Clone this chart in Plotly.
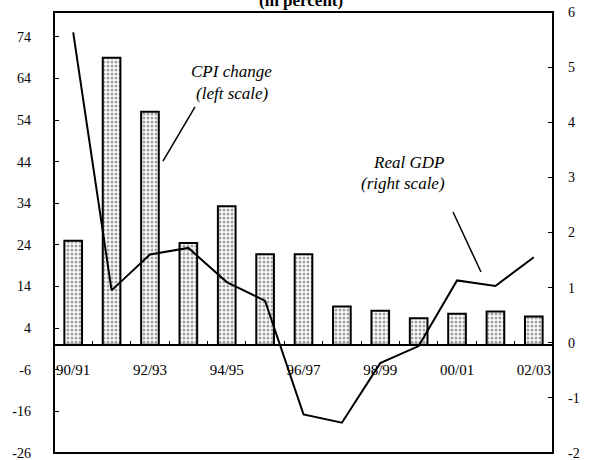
import plotly.graph_objects as go

categories = ["90/91", "91/92", "92/93", "93/94", "94/95", "95/96", "96/97",
              "97/98", "98/99", "99/00", "00/01", "01/02", "02/03"]
cpi_change = [25, 69, 56, 24.5, 33.3, 21.8, 21.8, 9.2, 8.2, 6.4, 7.5, 8.0, 6.8]
real_gdp = [5.63, 0.95, 1.6, 1.72, 1.1, 0.76, -1.3, -1.45, -0.37, -0.06, 1.13, 1.03, 1.55]

left_ticks = [-26, -16, -6, 4, 14, 24, 34, 44, 54, 64, 74]
right_ticks = [-2, -1, 0, 1, 2, 3, 4, 5, 6]
left_range = [-26, 80]
right_range = [-2, 6]
x_labels = [c if i % 2 == 0 else "" for i, c in enumerate(categories)]

SERIF = "Liberation Serif, Times New Roman, serif"

fig = go.Figure()
fig.add_trace(go.Bar(
    x=categories, y=cpi_change, width=0.46,
    marker=dict(color="white", line=dict(color="black", width=2),
                pattern=dict(shape=".", fgcolor="#444", bgcolor="white",
                             size=4, solidity=0.45)),
    showlegend=False, yaxis="y"))
fig.add_trace(go.Scatter(
    x=categories, y=real_gdp, mode="lines",
    line=dict(color="black", width=2), showlegend=False, yaxis="y2"))

zero_pos = -left_range[0] / (left_range[1] - left_range[0])

fig.update_layout(
    width=592, height=460,
    margin=dict(l=54, r=39, t=12, b=7, autoexpand=False),
    paper_bgcolor="white", plot_bgcolor="white",
    font=dict(family=SERIF, size=14, color="black"),
    xaxis=dict(type="category", anchor="free", position=zero_pos,
               tickvals=categories, ticktext=x_labels, tickson="boundaries",
               ticks="inside", ticklen=3, tickwidth=1, tickcolor="black",
               showline=True, linecolor="black", linewidth=1.5,
               showgrid=False, zeroline=False, ticklabelstandoff=11,
               tickangle=0, automargin=False, tickfont=dict(size=15)),
    yaxis=dict(range=left_range, tickvals=left_ticks,
               ticktext=[str(v) for v in left_ticks], ticks="inside",
               ticklen=5, tickcolor="black", showgrid=False, zeroline=False,
               showline=False, ticklabelstandoff=22, automargin=False,
               ticklabeloverflow="allow", tickfont=dict(size=14)),
    yaxis2=dict(range=right_range, tickvals=right_ticks,
                ticktext=[str(v) for v in right_ticks], overlaying="y",
                side="right", ticks="inside", ticklen=5, tickcolor="black",
                showgrid=False, zeroline=False, showline=False,
                ticklabelstandoff=14, automargin=False,
                ticklabeloverflow="allow", tickfont=dict(size=14)),
    shapes=[
        dict(type="rect", xref="paper", yref="paper", x0=0, x1=1, y0=0, y1=1,
             line=dict(color="black", width=2)),
        dict(type="line", xref="paper", yref="paper", x0=0.2826, y0=0.7846,
             x1=0.2184, y1=0.6621, line=dict(color="black", width=1.5)),
        dict(type="line", xref="paper", yref="paper", x0=0.7996, y0=0.5465,
             x1=0.8557, y1=0.4104, line=dict(color="black", width=1.5)),
    ],
    annotations=[
        dict(text="<b>(in percent)</b>", xref="paper", yref="paper", x=0.495,
             y=1, yanchor="bottom", yshift=0, showarrow=False,
             font=dict(size=17)),
        dict(text="<i>CPI change</i>", xref="paper", yref="paper", x=0.355,
             y=0.891, showarrow=False, font=dict(size=17)),
        dict(text="<i>(left scale)</i>", xref="paper", yref="paper", x=0.357,
             y=0.841, showarrow=False, font=dict(size=17)),
        dict(text="<i>Real GDP</i>", xref="paper", yref="paper", x=0.7856,
             y=0.6576, showarrow=False, font=dict(size=17)),
        dict(text="<i>(right scale)</i>", xref="paper", yref="paper", x=0.7876,
             y=0.6122, showarrow=False, font=dict(size=17)),
    ],
)

fig.write_html("out.html", config={"displayModeBar": False},
               post_script="document.body.style.margin='0';")
